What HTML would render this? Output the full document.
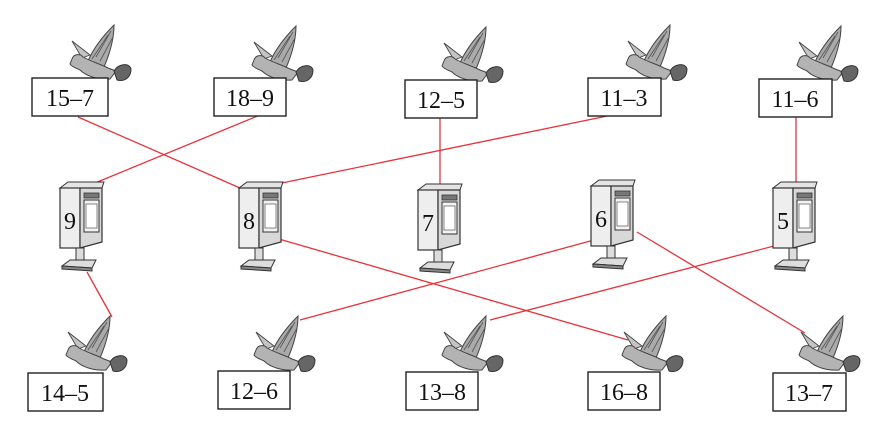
<!DOCTYPE html>
<html><head><meta charset="utf-8"><style>
html,body{margin:0;padding:0;background:#fff;}
svg{display:block;}
text{font-family:"Liberation Serif",serif;font-size:24px;fill:#111;}
</style></head><body>
<svg width="874" height="431" viewBox="0 0 874 431" xmlns="http://www.w3.org/2000/svg">
<defs>
<g id="bird">
  <path d="M4,16 L22,30 L14,33 Z" fill="#c4c4c4" stroke="#444" stroke-width="0.9"/>
  <path d="M20,36 C26,22 36,10 46,0 C46,14 42,28 36,42 Z" fill="#aaa" stroke="#444" stroke-width="1"/>
  <path d="M28,32 L43,6 M32,36 L45,12 M24,34 L40,10" stroke="#555" stroke-width="0.8"/>
  <path d="M4,34 C6,28 13,29 15,32 C22,36 32,39 40,43 L48,46 L42,54 C30,55 18,51 12,45 C8,43 4,42 2,39 Z" fill="#b3b3b3" stroke="#444" stroke-width="1"/>
  <path d="M46,46 C50,39 61,37 63,44 C63,53 56,57 49,55 Z" fill="#666" stroke="#333" stroke-width="1"/>
</g>
<g id="mb">
  <path d="M2,6 L10,0 L46,0 L44,6 Z" fill="#e4e4e4" stroke="#333" stroke-width="1"/>
  <rect x="2" y="6" width="20" height="60" fill="#eee" stroke="#333" stroke-width="1.2"/>
  <path d="M22,6 L44,6 L44,60 L22,66 Z" fill="#d8d8d8" stroke="#333" stroke-width="1.2"/>
  <rect x="26" y="11" width="15" height="5" fill="#777" stroke="#333" stroke-width="0.8"/>
  <rect x="26" y="18" width="15" height="32" fill="#f2f2f2" stroke="#333" stroke-width="1"/>
  <rect x="28" y="22" width="11" height="24" fill="#fff" stroke="#555" stroke-width="0.7"/>
  <rect x="18" y="66" width="8" height="14" fill="#ddd" stroke="#333" stroke-width="1"/>
  <path d="M4,84 L12,78 L38,78 L34,86 Z" fill="#ddd" stroke="#333" stroke-width="1"/>
  <path d="M4,84 L34,86 L34,89 L4,87 Z" fill="#888" stroke="#333" stroke-width="1"/>
</g>
</defs>

<g stroke="#e8323a" stroke-width="1.3" fill="none">
  <line x1="78" y1="117" x2="240" y2="188"/>
  <line x1="260" y1="115" x2="95" y2="183"/>
  <line x1="440" y1="118" x2="440" y2="185"/>
  <line x1="617" y1="114" x2="272" y2="185"/>
  <line x1="796" y1="115" x2="796" y2="185"/>
  <line x1="87" y1="272" x2="112" y2="317"/>
  <line x1="594" y1="240" x2="300" y2="320"/>
  <line x1="272" y1="237" x2="628" y2="340"/>
  <line x1="797" y1="240" x2="490" y2="320"/>
  <line x1="637" y1="232" x2="805" y2="333"/>
</g>

<use href="#bird" x="68" y="25"/>
<use href="#bird" x="250" y="26"/>
<use href="#bird" x="440" y="27"/>
<use href="#bird" x="624" y="25"/>
<use href="#bird" x="795" y="26"/>
<g fill="#fff" stroke="#222" stroke-width="1.4">
  <rect x="32" y="78" width="76" height="38"/>
  <rect x="214" y="78" width="72" height="38"/>
  <rect x="405" y="80" width="72" height="38"/>
  <rect x="588" y="78" width="73" height="38"/>
  <rect x="759" y="79" width="73" height="38"/>
</g>
<text x="70" y="106" text-anchor="middle">15–7</text>
<text x="250" y="106" text-anchor="middle">18–9</text>
<text x="441" y="108" text-anchor="middle">12–5</text>
<text x="624" y="106" text-anchor="middle">11–3</text>
<text x="795" y="107" text-anchor="middle">11–6</text>

<use href="#mb" x="58" y="182"/>
<use href="#mb" x="237" y="182"/>
<use href="#mb" x="416" y="184"/>
<use href="#mb" x="589" y="180"/>
<use href="#mb" x="771" y="182"/>
<text x="70" y="229" text-anchor="middle">9</text>
<text x="249" y="229" text-anchor="middle">8</text>
<text x="428" y="231" text-anchor="middle">7</text>
<text x="601" y="227" text-anchor="middle">6</text>
<text x="783" y="229" text-anchor="middle">5</text>

<use href="#bird" x="64" y="316"/>
<use href="#bird" x="252" y="316"/>
<use href="#bird" x="440" y="316"/>
<use href="#bird" x="620" y="316"/>
<use href="#bird" x="797" y="316"/>
<g fill="#fff" stroke="#222" stroke-width="1.4">
  <rect x="28" y="373" width="75" height="38"/>
  <rect x="218" y="371" width="72" height="38"/>
  <rect x="406" y="372" width="72" height="38"/>
  <rect x="588" y="372" width="72" height="38"/>
  <rect x="773" y="373" width="73" height="38"/>
</g>
<text x="65" y="401" text-anchor="middle">14–5</text>
<text x="254" y="399" text-anchor="middle">12–6</text>
<text x="442" y="400" text-anchor="middle">13–8</text>
<text x="624" y="400" text-anchor="middle">16–8</text>
<text x="809" y="401" text-anchor="middle">13–7</text>
</svg>
</body></html>
